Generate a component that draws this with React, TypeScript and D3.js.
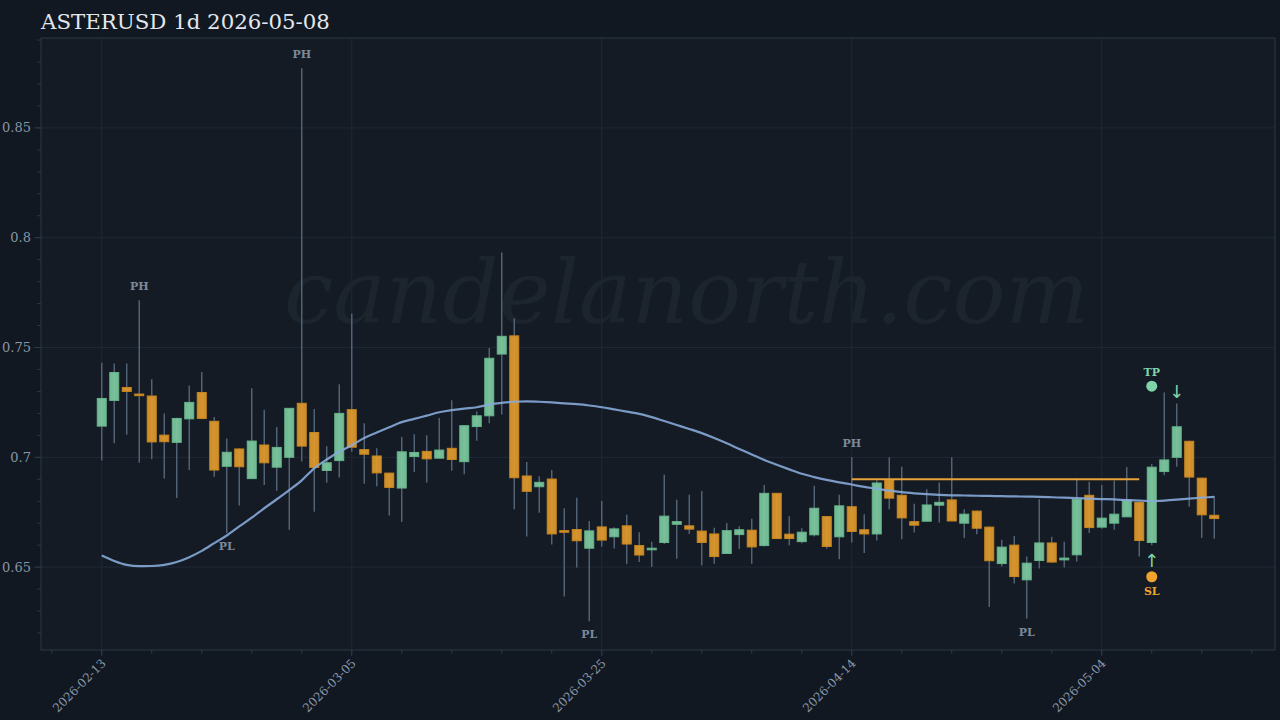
import React from 'react';
import * as d3 from 'd3';

const START_DATE = '2026-02-13';
const TITLE = 'ASTERUSD 1d 2026-05-08';
const WATERMARK = 'candelanorth.com';

const opens = [
  0.7142, 0.7259, 0.7318, 0.7288, 0.7279, 0.7101, 0.7068, 0.7175, 0.7295, 0.7164,
  0.6959, 0.7038, 0.6903, 0.7056, 0.6955, 0.7000, 0.7246, 0.7113, 0.6940, 0.6985,
  0.7217, 0.7035, 0.7006, 0.6928, 0.6860, 0.7004, 0.7027, 0.6996, 0.7041, 0.6980,
  0.7140, 0.7189, 0.7470, 0.7553, 0.6915, 0.6866, 0.6901, 0.6666, 0.6671, 0.6586,
  0.6683, 0.6638, 0.6688, 0.6598, 0.6579, 0.6612, 0.6695, 0.6688, 0.6664, 0.6651,
  0.6562, 0.6648, 0.6668, 0.6598, 0.6836, 0.6650, 0.6616, 0.6647, 0.6730, 0.6638,
  0.6775, 0.6670, 0.6651, 0.6897, 0.6827, 0.6707, 0.6709, 0.6782, 0.6806, 0.6700,
  0.6755, 0.6682, 0.6516, 0.6600, 0.6442, 0.6530, 0.6610, 0.6533, 0.6556, 0.6827,
  0.6682, 0.6700, 0.6729, 0.6794, 0.6612, 0.6935, 0.7000, 0.7073, 0.6905, 0.6736,
];
const highs = [
  0.7430, 0.7427, 0.7427, 0.7715, 0.7355, 0.7200, 0.7180, 0.7327, 0.7388, 0.7183,
  0.7086, 0.7040, 0.7315, 0.7216, 0.7138, 0.7225, 0.8772, 0.7220, 0.7050, 0.7333,
  0.7655, 0.7155, 0.7041, 0.6930, 0.7092, 0.7105, 0.7100, 0.7179, 0.7260, 0.7145,
  0.7209, 0.7498, 0.7933, 0.7632, 0.6979, 0.6914, 0.6942, 0.6768, 0.6816, 0.6710,
  0.6801, 0.6682, 0.6738, 0.6659, 0.6615, 0.6920, 0.6807, 0.6829, 0.6847, 0.6679,
  0.6701, 0.6686, 0.6720, 0.6874, 0.6838, 0.6732, 0.6677, 0.6870, 0.6732, 0.6830,
  0.7000, 0.6741, 0.6895, 0.7000, 0.6957, 0.6788, 0.6855, 0.6885, 0.7000, 0.6764,
  0.6757, 0.6685, 0.6624, 0.6642, 0.6548, 0.6809, 0.6638, 0.6615, 0.6905, 0.6889,
  0.6874, 0.6894, 0.6956, 0.6796, 0.6970, 0.7295, 0.7245, 0.7075, 0.6907, 0.6824,
];
const lows = [
  0.6985, 0.7064, 0.7103, 0.6975, 0.6991, 0.6903, 0.6815, 0.6942, 0.7173, 0.6912,
  0.6655, 0.6780, 0.6903, 0.6874, 0.6848, 0.6670, 0.6981, 0.6752, 0.6884, 0.6908,
  0.7025, 0.6879, 0.6868, 0.6735, 0.6705, 0.6933, 0.6884, 0.6996, 0.6939, 0.6923,
  0.7075, 0.7155, 0.7195, 0.6764, 0.6639, 0.6748, 0.6603, 0.6366, 0.6498, 0.6253,
  0.6594, 0.6585, 0.6514, 0.6523, 0.6500, 0.6605, 0.6538, 0.6651, 0.6507, 0.6515,
  0.6560, 0.6582, 0.6515, 0.6594, 0.6628, 0.6600, 0.6609, 0.6639, 0.6583, 0.6536,
  0.6612, 0.6564, 0.6621, 0.6764, 0.6627, 0.6657, 0.6709, 0.6703, 0.6710, 0.6632,
  0.6650, 0.6318, 0.6503, 0.6425, 0.6265, 0.6494, 0.6520, 0.6498, 0.6525, 0.6655,
  0.6675, 0.6670, 0.6729, 0.6548, 0.6600, 0.6918, 0.6957, 0.6775, 0.6632, 0.6629,
];
const closes = [
  0.7268, 0.7386, 0.7300, 0.7285, 0.7070, 0.7071, 0.7177, 0.7250, 0.7177, 0.6942,
  0.7023, 0.6957, 0.7074, 0.6975, 0.7045, 0.7223, 0.7051, 0.6954, 0.6975, 0.7200,
  0.7046, 0.7014, 0.6929, 0.6863, 0.7025, 0.7022, 0.6993, 0.7033, 0.6990, 0.7144,
  0.7189, 0.7451, 0.7551, 0.6907, 0.6845, 0.6886, 0.6651, 0.6659, 0.6620, 0.6665,
  0.6623, 0.6674, 0.6605, 0.6555, 0.6586, 0.6732, 0.6707, 0.6673, 0.6612, 0.6548,
  0.6666, 0.6670, 0.6592, 0.6836, 0.6630, 0.6630, 0.6659, 0.6768, 0.6594, 0.6779,
  0.6662, 0.6651, 0.6883, 0.6814, 0.6724, 0.6691, 0.6783, 0.6795, 0.6710, 0.6741,
  0.6677, 0.6529, 0.6591, 0.6457, 0.6518, 0.6610, 0.6523, 0.6541, 0.6809, 0.6680,
  0.6723, 0.6741, 0.6806, 0.6621, 0.6955, 0.6988, 0.7139, 0.6910, 0.6738, 0.6721,
];
const maValues = [
  0.6553, 0.6528, 0.6510, 0.6504, 0.6505, 0.6510, 0.6523, 0.6545, 0.6574, 0.6609,
  0.6644, 0.6685, 0.6725, 0.6768, 0.6809, 0.6851, 0.6895, 0.6950, 0.6990, 0.7025,
  0.7055, 0.7088, 0.7113, 0.7137, 0.7160, 0.7175, 0.7190, 0.7205, 0.7215, 0.7222,
  0.7228, 0.7240, 0.7248, 0.7253, 0.7255, 0.7253, 0.7250, 0.7246, 0.7242, 0.7236,
  0.7228, 0.7218, 0.7208, 0.7198, 0.7183, 0.7165, 0.7147, 0.7129, 0.7110, 0.7088,
  0.7064, 0.7038, 0.7013, 0.6988, 0.6966, 0.6945, 0.6925, 0.6910, 0.6897, 0.6886,
  0.6876, 0.6865, 0.6857, 0.6848, 0.6841, 0.6836, 0.6832, 0.6829, 0.6827, 0.6826,
  0.6825, 0.6824, 0.6823, 0.6822, 0.6821, 0.6820, 0.6818, 0.6816, 0.6814, 0.6812,
  0.6810, 0.6808, 0.6805, 0.6803, 0.6801, 0.6803, 0.6807, 0.6812, 0.6816, 0.6820,
];

const xTickLabels = ['2026-02-13', '2026-03-05', '2026-03-25', '2026-04-14', '2026-05-04'];
const yTickValues = [0.65, 0.7, 0.75, 0.8, 0.85];
const yTickLabels = ['0.65', '0.7', '0.75', '0.8', '0.85'];

const pivotIndex = [3, 10, 16, 39, 60, 74];
const pivotType = ['PH', 'PL', 'PH', 'PL', 'PH', 'PL'];

const levelStart = 60;
const levelEnd = 83;
const levelValue = 0.69;

const tpIndex = 84;
const tpValue = 0.7324;
const slIndex = 84;
const slValue = 0.6456;
const upArrowIndex = 84;
const downArrowIndex = 86;

const DAY = 864e5;
const FONT = "'DejaVu Serif', serif";

export default function App() {
  const start = d3.utcParse('%Y-%m-%d')(START_DATE) as Date;
  const dates = opens.map((_, i) => d3.utcDay.offset(start, i));
  const x = d3
    .scaleUtc()
    .domain([new Date(start.getTime() - 4.86 * DAY), new Date(start.getTime() + 93.86 * DAY)])
    .range([41, 1275]);
  const y = d3.scaleLinear().domain([0.61225, 0.89094]).range([650, 38]);

  const L = 41, R = 1275, T = 38, B = 650;
  const green = '#7dcaa0';
  const greenStroke = '#66b48a';
  const orange = '#e19a2c';
  const orangeStroke = '#c8861f';
  const wick = '#56677a';
  const bw = 9;

  const majorDates = xTickLabels.map((s) => d3.utcParse('%Y-%m-%d')(s) as Date);
  const minorDates = d3.range(-4, 94, 4).map((k) => d3.utcDay.offset(start, k));
  const minorY = d3.range(62, 90).map((v) => v / 100);

  const maLine = d3
    .line<number>()
    .x((_, i) => x(dates[i]))
    .y((d) => y(d))
    .curve(d3.curveMonotoneX);

  return (
    <svg
      width={1280}
      height={720}
      style={{ position: 'fixed', left: 0, top: 0, display: 'block' }}
      fontFamily={FONT}
    >
      <rect x={0} y={0} width={1280} height={720} fill="#111821" />
      <rect x={L} y={T} width={R - L} height={B - T} fill="#141b25" />

      {/* grid */}
      {yTickValues.map((v, i) => (
        <line key={'gy' + i} x1={L} x2={R} y1={y(v)} y2={y(v)} stroke="#1e2935" strokeWidth={1} />
      ))}
      {majorDates.map((d, i) => (
        <line key={'gx' + i} x1={x(d)} x2={x(d)} y1={T} y2={B} stroke="#1e2935" strokeWidth={1} />
      ))}

      {/* watermark */}
      <text
        x={686.5}
        y={323}
        textAnchor="middle"
        fontSize={88}
        fontStyle="italic"
        fill="#1c242e"
        fontFamily={FONT}
      >
        {WATERMARK}
      </text>

      {/* frame */}
      <rect x={L} y={T} width={R - L} height={B - T} fill="none" stroke="#2a3847" strokeWidth={1} />

      {/* y ticks */}
      {minorY.map((v, i) => (
        <line key={'my' + i} x1={L - 4} x2={L} y1={y(v)} y2={y(v)} stroke="#2a3847" />
      ))}
      {yTickValues.map((v, i) => (
        <g key={'yt' + i}>
          <line x1={L - 7} x2={L} y1={y(v)} y2={y(v)} stroke="#2a3847" />
          <text x={L - 10} y={y(v)} dy="0.35em" textAnchor="end" fontSize={13} fill="#8796a8">
            {yTickLabels[i]}
          </text>
        </g>
      ))}

      {/* x ticks */}
      {minorDates.map((d, i) => (
        <line key={'mx' + i} x1={x(d)} x2={x(d)} y1={B} y2={B + 4} stroke="#2a3847" />
      ))}
      {majorDates.map((d, i) => (
        <g key={'xt' + i}>
          <line x1={x(d)} x2={x(d)} y1={B} y2={B + 6} stroke="#2a3847" />
          <text
            transform={`translate(${x(d) + 5},${B + 14}) rotate(-45)`}
            textAnchor="end"
            fontSize={12}
            fill="#8796a8"
          >
            {xTickLabels[i]}
          </text>
        </g>
      ))}

      {/* wicks */}
      {dates.map((d, i) => (
        <line
          key={'w' + i}
          x1={x(d)}
          x2={x(d)}
          y1={y(highs[i])}
          y2={y(lows[i])}
          stroke={wick}
          strokeWidth={1.4}
        />
      ))}

      {/* bodies */}
      {dates.map((d, i) => {
        const up = closes[i] >= opens[i];
        const top = y(Math.max(opens[i], closes[i]));
        const bot = y(Math.min(opens[i], closes[i]));
        const h = Math.max(bot - top, 1.6);
        return (
          <rect
            key={'b' + i}
            x={x(d) - bw / 2}
            y={top}
            width={bw}
            height={h}
            fill={up ? green : orange}
            fillOpacity={0.92}
            stroke={up ? greenStroke : orangeStroke}
            strokeWidth={1}
          />
        );
      })}

      {/* level line */}
      <line
        x1={x(dates[levelStart])}
        x2={x(dates[levelEnd])}
        y1={y(levelValue)}
        y2={y(levelValue)}
        stroke="#e8a23a"
        strokeWidth={2}
      />

      {/* moving average */}
      <path d={maLine(maValues) || ''} fill="none" stroke="#86aad8" strokeWidth={2.2} strokeOpacity={0.9} />

      {/* pivots */}
      {pivotIndex.map((idx, k) => {
        const isHigh = pivotType[k] === 'PH';
        const yy = isHigh ? y(highs[idx]) - 10 : y(lows[idx]) + 17;
        return (
          <text
            key={'p' + k}
            x={x(dates[idx])}
            y={yy}
            textAnchor="middle"
            fontSize={11}
            fontWeight="bold"
            fill="#7b899a"
          >
            {pivotType[k]}
          </text>
        );
      })}

      {/* TP */}
      <circle cx={x(dates[tpIndex])} cy={y(tpValue)} r={5.5} fill="#7fd3a8" />
      <text
        x={x(dates[tpIndex])}
        y={y(tpValue) - 10}
        textAnchor="middle"
        fontSize={11}
        fontWeight="bold"
        fill="#7fd3a8"
      >
        TP
      </text>
      {/* SL */}
      <circle cx={x(dates[slIndex])} cy={y(slValue)} r={5.5} fill="#f2a32e" />
      <text
        x={x(dates[slIndex])}
        y={y(slValue) + 18}
        textAnchor="middle"
        fontSize={11}
        fontWeight="bold"
        fill="#f2a32e"
      >
        SL
      </text>

      {/* arrows */}
      <text
        x={x(dates[downArrowIndex])}
        y={y(highs[downArrowIndex]) - 6}
        textAnchor="middle"
        fontSize={18}
        fontFamily="'DejaVu Sans', sans-serif"
        fill="#7fd3a8"
      >
        ↓
      </text>
      <text
        x={x(dates[upArrowIndex])}
        y={y(lows[upArrowIndex]) + 22}
        textAnchor="middle"
        fontSize={18}
        fontFamily="'DejaVu Sans', sans-serif"
        fill="#7fd3a8"
      >
        ↑
      </text>

      {/* title */}
      <text x={41} y={28.5} fontSize={21.3} fill="#e3e7ed">
        {TITLE}
      </text>
    </svg>
  );
}
